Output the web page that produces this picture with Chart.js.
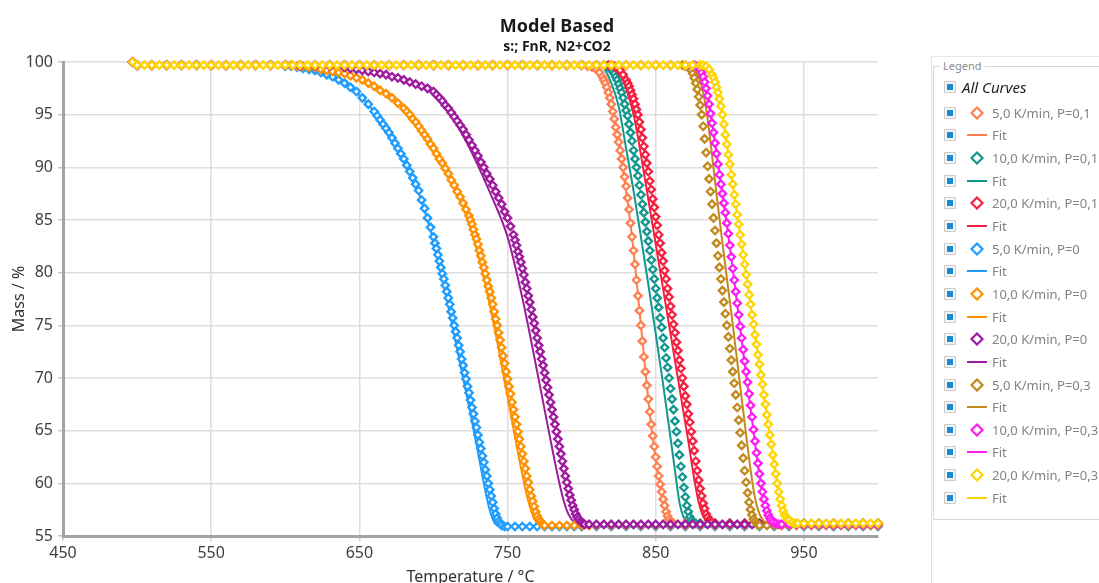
<!DOCTYPE html>
<html>
<head>
<meta charset="utf-8">
<title>Model Based</title>
<script src="https://cdn.jsdelivr.net/npm/chart.js@4.4.1/dist/chart.umd.min.js"></script>
<style>
  html, body { margin: 0; padding: 0; background: #fff; overflow: hidden; width: 1099px; height: 583px; }
  #chartMass { position: absolute; left: 0; top: 0; }
  .panel { position: absolute; left: 931px; top: 56px; width: 200px; height: 560px; border-left: 1px solid #e2e2e2; border-top: 1px solid #e8e8e8; }
  .groupBox { position: absolute; left: 933px; top: 66px; width: 200px; height: 452px; border: 1px solid #d9d9d9; }
  .groupTitle { position: absolute; left: 940px; top: 58px; padding: 0 3px; background: #fff; font: 11px 'Noto Sans', sans-serif; color: #8c8c8c; }
  .row { position: absolute; left: 944px; height: 16px; display: flex; align-items: center; font-family: 'Noto Sans', sans-serif; white-space: nowrap; }
  .check { width: 10px; height: 10px; border: 1px solid #cdcdcd; background: #f3f3f3; position: relative; flex: none; }
  .check div { position: absolute; left: 2px; top: 2px; width: 6px; height: 6px; background: #1a8ad4; }
  .icon { margin-left: 10px; flex: none; }
  .label { margin-left: 4px; font-size: 13px; color: #838383; }
  .allCurves { margin-left: 6px; font-size: 15px; font-style: italic; color: #1e1e1e; }
</style>
</head>
<body>
<canvas id="chartMass" width="1114" height="590"></canvas>
<div class="panel"></div>
<div class="groupBox"></div>
<div class="groupTitle">Legend</div>
<div id="legendRows"></div>
<script>
// Axis ticks
const xTicks = [450, 550, 650, 750, 850, 950];
const yTicks = [55, 60, 65, 70, 75, 80, 85, 90, 95, 100];

// Legend labels and colours (measurement series, each one followed by its fit)
const seriesLabels = ['5,0 K/min, P=0,1', '10,0 K/min, P=0,1', '20,0 K/min, P=0,1',
                      '5,0 K/min, P=0', '10,0 K/min, P=0', '20,0 K/min, P=0',
                      '5,0 K/min, P=0,3', '10,0 K/min, P=0,3', '20,0 K/min, P=0,3'];
const seriesColors = ['#FF7F50', '#12978F', '#F5203F', '#1E9CFF', '#FF9000', '#9E1A9E', '#C28A1E', '#FF1CF0', '#FFD500'];

// Measured mass [temperature, mass %]
const mass5P01 = [[497,100],[500,99.7],[510,99.7],[520,99.7],[530,99.7],[540,99.7],[550,99.7],[560,99.7],[570,99.7],[580,99.7],[590,99.7],[600,99.7],[610,99.7],[620,99.7],[630,99.7],[640,99.7],[650,99.7],[660,99.7],[670,99.7],[680,99.7],[690,99.7],[700,99.7],[710,99.7],[720,99.7],[730,99.7],[740,99.7],[750,99.7],[760,99.7],[770,99.7],[780,99.7],[790,99.7],[800,99.7],
  [804,99.6],[807,99.5],[810,99.3],[812,99.0],[814,98.6],[815,98.3],[816,98.0],[817,97.6],[818,97.1],[819,96.6],[820,96.0],[821,95.3],[822,94.6],[823,93.8],[824,93.1],[825,92.4],[826,91.6],[827,90.8],[828,90.0],[829,89.1],[830,88.2],[831,87.1],[832,86.0],[833,84.7],[834,83.4],[835,82.1],[836,80.8],[837,79.3],[838,77.8],[839,76.4],[840,75.0],[841,73.5],[842,72.0],[843,70.6],[844,69.3],[845,68.0],[846,66.8],[847,65.6],[848,64.5],[849,63.5],[850,62.5],[851,61.6],[852,60.7],[853,59.9],[854,59.2],[855,58.5],[856,57.9],[857,57.3],[858,56.9],[859,56.6],[860,56.4],[862,56.2],
  [870,56.2],[880,56.2],[890,56.2],[900,56.2],[910,56.2],[920,56.2],[930,56.2],[940,56.2],[950,56.2],[960,56.2],[970,56.2],[980,56.2],[990,56.2],[1000,56.2]];

const mass10P01 = [[497,100],[500,99.7],[510,99.7],[520,99.7],[530,99.7],[540,99.7],[550,99.7],[560,99.7],[570,99.7],[580,99.7],[590,99.7],[600,99.7],[610,99.7],[620,99.7],[630,99.7],[640,99.7],[650,99.7],[660,99.7],[670,99.7],[680,99.7],[690,99.7],[700,99.7],[710,99.7],[720,99.7],[730,99.7],[740,99.7],[750,99.7],[760,99.7],[770,99.7],[780,99.7],[790,99.7],[800,99.7],[810,99.7],
  [815,99.7],[818,99.5],[820,99.3],[821,99.1],[822,98.9],[823,98.6],[824,98.3],[825,97.9],[826,97.5],[827,97.1],[828,96.6],[829,96.0],[830,95.4],[831,94.9],[832,94.1],[833,93.3],[834,92.5],[835,91.6],[836,90.8],[837,90.0],[838,89.2],[839,88.3],[840,87.4],[841,86.5],[842,85.7],[843,84.8],[844,83.9],[845,83.0],[846,82.1],[847,81.2],[848,80.3],[849,79.4],[850,78.5],[851,77.6],[852,76.7],[853,75.7],[854,74.8],[855,73.8],[856,72.9],[857,71.9],[858,71.0],[859,70.0],[860,69.0],[861,68.0],[862,67.0],[863,65.9],[864,64.9],[865,63.8],[866,62.7],[867,61.6],[868,60.6],[869,59.6],[870,58.7],[871,57.9],[872,57.3],[873,56.8],[874,56.5],[875,56.3],[877,56.2],
  [880,56.2],[890,56.2],[900,56.2],[910,56.2],[920,56.2],[930,56.2],[940,56.2],[950,56.2],[960,56.2],[970,56.2],[980,56.2],[990,56.2],[1000,56.2]];

const mass20P01 = [[497,100],[500,99.7],[510,99.7],[520,99.7],[530,99.7],[540,99.7],[550,99.7],[560,99.7],[570,99.7],[580,99.7],[590,99.7],[600,99.7],[610,99.7],[620,99.7],[630,99.7],[640,99.7],[650,99.7],[660,99.7],[670,99.7],[680,99.7],[690,99.7],[700,99.7],[710,99.7],[720,99.7],[730,99.7],[740,99.7],[750,99.7],[760,99.7],[770,99.7],[780,99.7],[790,99.7],[800,99.7],[810,99.7],
  [818,99.7],[822,99.6],[824,99.4],[826,99.2],[828,98.8],[830,98.3],[831,98.0],[832,97.7],[833,97.3],[834,96.9],[835,96.5],[836,96.0],[837,95.5],[838,95.0],[839,94.3],[840,93.6],[841,92.8],[842,92.0],[843,91.2],[844,90.4],[845,89.6],[846,88.7],[847,87.9],[848,87.0],[849,86.2],[850,85.3],[851,84.5],[852,83.6],[853,82.8],[854,81.9],[855,81.1],[856,80.2],[857,79.4],[858,78.5],[859,77.7],[860,76.8],[861,76.0],[862,75.1],[863,74.3],[864,73.4],[865,72.6],[866,71.7],[867,70.9],[868,70.0],[869,69.2],[870,68.3],[871,67.5],[872,66.6],[873,65.8],[874,64.9],[875,64.0],[876,63.1],[877,62.1],[878,61.2],[879,60.3],[880,59.5],[881,58.8],[882,58.1],[883,57.6],[884,57.1],[885,56.8],[886,56.5],[887,56.4],[888,56.3],[890,56.2],
  [900,56.2],[910,56.2],[920,56.2],[930,56.2],[940,56.2],[950,56.2],[960,56.2],[970,56.2],[980,56.2],[990,56.2],[1000,56.2]];

const mass5P0 = [[497,100],[500,99.7],[510,99.7],[520,99.7],[530,99.7],[540,99.7],[550,99.7],[560,99.7],[570,99.7],[580,99.7],[590,99.7],
  [600,99.6],[604,99.6],[608,99.5],[612,99.4],[616,99.3],[620,99.2],[624,99.0],[628,98.8],[632,98.6],[636,98.3],[640,98.0],[644,97.6],[648,97.2],[652,96.6],[656,96.0],[660,95.3],
  [662,94.9],[664,94.5],[666,94.1],[668,93.7],[670,93.3],[672,92.8],[674,92.3],[676,91.8],[678,91.3],[680,90.8],[682,90.2],[684,89.6],[686,89.0],[688,88.4],[690,87.8],[692,86.9],[694,86.1],[696,85.2],[698,84.3],
  [700,83.4],[701,82.8],[702,82.3],[703,81.7],[704,81.1],[705,80.5],[706,79.9],[707,79.4],[708,78.8],[709,78.2],[710,77.6],[711,77.0],[712,76.3],[713,75.7],[714,75.0],[715,74.4],[716,73.8],[717,73.1],[718,72.5],[719,71.8],[720,71.2],[721,70.5],[722,69.9],[723,69.2],[724,68.6],[725,67.9],[726,67.2],[727,66.6],[728,65.9],[729,65.3],[730,64.6],[731,63.9],[732,63.3],[733,62.6],[734,62.0],[735,61.3],[736,60.7],[737,60.0],[738,59.4],[739,58.8],[740,58.2],[741,57.6],[742,57.1],[743,56.7],[744,56.4],[745,56.2],[746,56.0],[748,55.9],
  [750,55.9],[755,55.9],[760,55.9],[765,55.9],[770,55.9],[775,55.9],[780,55.9],[785,55.9],[790,55.9],[795,55.9],[800,55.9],[810,55.9],[820,55.9],[830,55.9],[840,55.9],[850,55.9],[860,55.9],[870,55.9],[880,55.9],[890,55.9],[900,55.9],[910,55.9],[920,55.9],[930,55.9],[940,55.9],[950,55.9],[960,55.9],[970,55.9],[980,55.9],[990,55.9],[1000,55.9]];

const mass10P0 = [[497,100],[500,99.7],[510,99.7],[520,99.7],[530,99.7],[540,99.7],[550,99.7],[560,99.7],[570,99.7],[580,99.7],[590,99.7],
  [600,99.7],[604,99.7],[608,99.6],[612,99.6],[616,99.5],[620,99.5],[624,99.3],[628,99.2],[632,99.1],[636,99.0],[640,98.9],[644,98.7],[648,98.5],[652,98.3],[656,98.0],[660,97.7],[664,97.3],[668,97.0],[672,96.6],[676,96.1],[680,95.6],
  [682,95.3],[684,95.0],[686,94.6],[688,94.3],[690,93.9],[692,93.5],[694,93.1],[696,92.7],[698,92.2],[700,91.8],[702,91.3],[704,90.8],[706,90.4],[708,89.9],[710,89.4],[712,88.8],[714,88.3],[716,87.7],[718,87.2],[720,86.6],[722,86.0],[724,85.4],
  [725,85.0],[726,84.6],[727,84.1],[728,83.6],[729,83.2],[730,82.7],[731,82.1],[732,81.6],[733,81.0],[734,80.5],[735,79.9],[736,79.3],[737,78.7],[738,78.2],[739,77.6],[740,77.0],[741,76.3],[742,75.6],[743,75.0],[744,74.3],[745,73.6],[746,72.9],[747,72.1],[748,71.4],[749,70.6],[750,69.9],[751,69.2],[752,68.5],[753,67.7],[754,67.0],[755,66.3],[756,65.6],[757,64.9],[758,64.2],[759,63.5],[760,62.8],[761,62.1],[762,61.4],[763,60.7],[764,60.1],[765,59.4],[766,58.8],[767,58.3],[768,57.8],[769,57.3],[770,56.9],[771,56.6],[772,56.4],[773,56.2],[774,56.1],[775,56.0],
  [780,56.0],[785,56.0],[790,56.0],[795,56.0],[800,56.0],[805,56.0],[810,56.0],[820,56.0],[830,56.0],[840,56.0],[850,56.0],[860,56.0],[870,56.0],[880,56.0],[890,56.0],[900,56.0],[910,56.0],[920,56.0],[930,56.0],[940,56.0],[950,56.0],[960,56.0],[970,56.0],[980,56.0],[990,56.0],[1000,56.0]];

const mass20P0 = [[497,100],[500,99.7],[510,99.7],[520,99.7],[530,99.7],[540,99.7],[550,99.7],[560,99.7],[570,99.7],[580,99.7],[590,99.7],[600,99.7],[610,99.6],[620,99.6],[630,99.6],
  [640,99.5],[644,99.4],[648,99.3],[652,99.2],[656,99.1],[660,99.0],[664,98.9],[668,98.8],[672,98.6],[676,98.5],[680,98.3],[684,98.1],[688,97.9],[692,97.7],[696,97.5],[700,97.2],
  [702,96.9],[704,96.6],[706,96.3],[708,95.9],[710,95.6],[712,95.2],[714,94.8],[716,94.4],[718,94.0],[720,93.6],[722,93.1],[724,92.6],[726,92.1],[728,91.6],[730,91.1],[732,90.5],[734,90.0],[736,89.4],[738,88.9],[740,88.3],[742,87.7],[744,87.1],[746,86.5],[748,85.8],[750,85.2],[752,84.4],[754,83.6],
  [755,83.1],[756,82.6],[757,82.0],[758,81.5],[759,81.0],[760,80.4],[761,79.8],[762,79.1],[763,78.5],[764,77.8],[765,77.2],[766,76.5],[767,75.8],[768,75.2],[769,74.5],[770,73.8],[771,73.1],[772,72.5],[773,71.8],[774,71.2],[775,70.5],[776,69.8],[777,69.1],[778,68.4],[779,67.7],[780,67.0],[781,66.3],[782,65.6],[783,64.9],[784,64.2],[785,63.5],[786,62.8],[787,62.1],[788,61.4],[789,60.7],[790,60.1],[791,59.5],[792,58.9],[793,58.4],[794,57.9],[795,57.5],[796,57.1],[797,56.8],[798,56.6],[799,56.4],[800,56.3],[801,56.2],[802,56.1],
  [805,56.1],[810,56.1],[815,56.1],[820,56.1],[825,56.1],[830,56.1],[835,56.1],[840,56.1],[845,56.1],[850,56.1],[855,56.1],[860,56.1],[865,56.1],[870,56.1],[875,56.1],[880,56.1],[885,56.1],[890,56.1],[895,56.1],[900,56.1],[905,56.1],[910,56.1],[915,56.1],[920,56.1],[930,56.1],[940,56.1],[950,56.1],[960,56.1],[970,56.1],[980,56.1],[990,56.1],[1000,56.1]];

const mass5P03 = [[497,100],[500,99.7],[510,99.7],[520,99.7],[530,99.7],[540,99.7],[550,99.7],[560,99.7],[570,99.7],[580,99.7],[590,99.7],[600,99.7],[610,99.7],[620,99.7],[630,99.7],[640,99.7],[650,99.7],[660,99.7],[670,99.7],[680,99.7],[690,99.7],[700,99.7],[710,99.7],[720,99.7],[730,99.7],[740,99.7],[750,99.7],[760,99.7],[770,99.7],[780,99.7],[790,99.7],[800,99.7],[810,99.7],[820,99.7],[830,99.7],[840,99.7],[850,99.7],[860,99.7],
  [868,99.7],[870,99.6],[872,99.5],[874,99.2],[875,98.9],[876,98.5],[877,98.0],[878,97.4],[879,96.7],[880,95.9],[881,95.0],[882,93.9],[883,92.7],[884,91.4],[885,90.1],[886,88.9],[887,87.7],[888,86.5],[889,85.2],[890,84.0],[891,82.8],[892,81.6],[893,80.5],[894,79.4],[895,78.3],[896,77.2],[897,76.1],[898,75.0],[899,73.9],[900,72.8],[901,71.7],[902,70.6],[903,69.5],[904,68.4],[905,67.2],[906,66.0],[907,64.8],[908,63.6],[909,62.4],[910,61.2],[911,60.1],[912,59.1],[913,58.2],[914,57.5],[915,57.0],[916,56.6],[917,56.4],[918,56.2],[919,56.1],[920,56.0],
  [925,56.0],[930,56.0],[935,56.0],[940,56.0],[945,56.0],[950,56.0],[955,56.0],[960,56.0],[965,56.0],[970,56.0],[975,56.0],[980,56.0],[985,56.0],[990,56.0],[995,56.0],[1000,56.0]];

const mass10P03 = [[497,100],[500,99.7],[510,99.7],[520,99.7],[530,99.7],[540,99.7],[550,99.7],[560,99.7],[570,99.7],[580,99.7],[590,99.7],[600,99.7],[610,99.7],[620,99.7],[630,99.7],[640,99.7],[650,99.7],[660,99.7],[670,99.7],[680,99.7],[690,99.7],[700,99.7],[710,99.7],[720,99.7],[730,99.7],[740,99.7],[750,99.7],[760,99.7],[770,99.7],[780,99.7],[790,99.7],[800,99.7],[810,99.7],[820,99.7],[830,99.7],[840,99.7],[850,99.7],[860,99.7],[870,99.7],
  [876,99.7],[878,99.6],[880,99.3],[881,99.0],[882,98.6],[883,98.1],[884,97.5],[885,96.8],[886,96.0],[887,95.1],[888,94.2],[889,93.3],[890,92.3],[891,91.3],[892,90.3],[893,89.3],[894,88.4],[895,87.5],[896,86.6],[897,85.7],[898,84.7],[899,83.7],[900,82.6],[901,81.5],[902,80.4],[903,79.3],[904,78.2],[905,77.1],[906,76.0],[907,74.9],[908,73.8],[909,72.7],[910,71.6],[911,70.6],[912,69.6],[913,68.5],[914,67.4],[915,66.3],[916,65.1],[917,64.0],[918,62.9],[919,61.9],[920,60.9],[921,60.0],[922,59.2],[923,58.5],[924,57.9],[925,57.4],[926,57.0],[927,56.7],[928,56.5],[929,56.3],[931,56.2],[933,56.1],
  [935,56.1],[940,56.1],[945,56.1],[950,56.1],[955,56.1],[960,56.1],[965,56.1],[970,56.1],[975,56.1],[980,56.1],[985,56.1],[990,56.1],[995,56.1],[1000,56.1]];

const mass20P03 = [[497,100],[500,99.7],[505,99.7],[510,99.7],[515,99.7],[520,99.7],[525,99.7],[530,99.7],[535,99.7],[540,99.7],[545,99.7],[550,99.7],[555,99.7],[560,99.7],[565,99.7],[570,99.7],[575,99.7],[580,99.7],[585,99.7],[590,99.7],[595,99.7],[600,99.7],[605,99.7],[610,99.7],[615,99.7],[620,99.7],[625,99.7],[630,99.7],[635,99.7],[640,99.7],[645,99.7],[650,99.7],[655,99.7],[660,99.7],[665,99.7],[670,99.7],[675,99.7],[680,99.7],[685,99.7],[690,99.7],[695,99.7],[700,99.7],[705,99.7],[710,99.7],[715,99.7],[720,99.7],[725,99.7],[730,99.7],[735,99.7],[740,99.7],[745,99.7],[750,99.7],[755,99.7],[760,99.7],[765,99.7],[770,99.7],[775,99.7],[780,99.7],[785,99.7],[790,99.7],[795,99.7],[800,99.7],[805,99.7],[810,99.7],[815,99.7],[820,99.7],[825,99.7],[830,99.7],[835,99.7],[840,99.7],[845,99.7],[850,99.7],[855,99.7],[860,99.7],[865,99.7],[870,99.7],[875,99.7],[880,99.7],
  [882,99.7],[884,99.6],[886,99.3],[888,98.8],[889,98.5],[890,98.1],[891,97.6],[892,97.1],[893,96.5],[894,95.8],[895,95.0],[896,94.1],[897,93.1],[898,92.2],[899,91.2],[900,90.3],[901,89.3],[902,88.4],[903,87.4],[904,86.5],[905,85.5],[906,84.6],[907,83.6],[908,82.7],[909,81.7],[910,80.8],[911,79.8],[912,78.9],[913,77.9],[914,77.0],[915,76.0],[916,75.1],[917,74.1],[918,73.2],[919,72.2],[920,71.3],[921,70.3],[922,69.4],[923,68.4],[924,67.5],[925,66.5],[926,65.6],[927,64.6],[928,63.7],[929,62.7],[930,61.8],[931,60.9],[932,60.0],[933,59.2],[934,58.5],[935,57.9],[936,57.4],[937,57.0],[938,56.8],[939,56.6],[940,56.5],[942,56.3],[944,56.2],
  [946,56.2],[950,56.2],[955,56.2],[960,56.2],[965,56.2],[970,56.2],[975,56.2],[980,56.2],[985,56.2],[990,56.2],[995,56.2],[1000,56.2]];

// Model fits [temperature, mass %]
const fit5P01 = [[500,99.7],[800,99.7],[806,99.6],[810,99.3],[814,98.5],[818,97.0],[821,95.2],[824,92.9],[828,89.6],[832,85.7],[836,80.8],[840,75.0],[844,69.3],[848,64.3],[852,60.4],[855,58.3],[858,56.8],[861,56.3],[864,56.2],[1000,56.2]];
const fit10P01 = [[500,99.7],[811,99.7],[815,99.4],[820,98.0],[825,95.8],[830,91.8],[835,87.8],[840,83.4],[845,78.9],[850,74.2],[855,69.4],[860,64.3],[863,61.2],[866,58.2],[869,56.7],[872,56.2],[1000,56.2]];
const fit20P01 = [[500,99.7],[815,99.7],[820,99.6],[824,99.2],[828,98.3],[832,96.6],[836,94.4],[840,91.2],[844,87.8],[848,84.4],[852,81.0],[856,77.6],[860,74.2],[864,70.8],[868,67.4],[872,64.0],[876,60.4],[879,58.2],[882,56.9],[885,56.3],[888,56.2],[1000,56.2]];
const fit5P0 = [[500,99.7],[600,99.6],[620,99.2],[640,98.0],[660,95.3],[680,90.8],[690,87.6],[700,83.0],[710,76.8],[720,70.0],[725,66.6],[730,63.0],[734,60.0],[737,58.0],[740,56.6],[742,56.1],[745,55.9],[1000,55.9]];
const fit10P0 = [[500,99.7],[600,99.7],[640,98.9],[660,97.7],[680,95.6],[700,91.7],[720,86.2],[730,81.8],[740,75.6],[750,68.2],[760,60.8],[764,58.3],[768,56.6],[771,56.1],[774,56.0],[1000,56.0]];
const fit20P0 = [[500,99.7],[640,99.5],[680,98.3],[700,97.0],[720,93.0],[740,87.0],[750,83.4],[760,77.6],[770,70.6],[775,67.0],[780,63.4],[785,60.0],[788,58.3],[791,57.1],[795,56.3],[799,56.1],[1000,56.1]];
const fit5P03 = [[500,99.7],[869,99.7],[873,99.6],[877,99.2],[880,98.2],[883,96.4],[885,94.6],[887,92.4],[889,89.9],[891,87.5],[894,84.0],[897,80.6],[901,76.2],[906,70.4],[911,64.6],[914,61.3],[917,58.6],[920,57.1],[923,56.4],[927,56.1],[931,56.0],[1000,56.0]];
const fit10P03 = [[500,99.7],[876,99.7],[880,99.3],[884,97.6],[888,94.3],[892,90.4],[896,86.6],[900,82.5],[905,77.0],[910,71.4],[915,66.0],[920,60.8],[923,58.6],[926,57.1],[929,56.4],[933,56.1],[1000,56.1]];
const fit20P03 = [[500,99.7],[882,99.7],[886,99.3],[890,98.1],[895,95.0],[900,90.3],[905,85.5],[910,80.8],[915,76.0],[920,71.3],[925,66.5],[930,61.8],[934,58.6],[938,56.9],[942,56.3],[946,56.2],[1000,56.2]];

const seriesMass = [mass5P01, mass10P01, mass20P01, mass5P0, mass10P0, mass20P0, mass5P03, mass10P03, mass20P03];
const seriesFit = [fit5P01, fit10P01, fit20P01, fit5P0, fit10P0, fit20P0, fit5P03, fit10P03, fit20P03];

Chart.defaults.font.family = "'Noto Sans', sans-serif";

// Build datasets: fits are drawn underneath, later measurement series on top
const datasets = [];
seriesLabels.forEach((label, i) => {
    datasets.push({
        label: label,
        data: seriesMass[i],
        yAxisID: 'y',
        showLine: false,
        pointStyle: 'rectRot',
        pointRadius: 3.7,
        pointBorderWidth: 2.3,
        pointBorderColor: seriesColors[i],
        pointBackgroundColor: '#ffffff',
        clip: 10,
        order: 20 - i
    });
    datasets.push({
        label: 'Fit',
        data: seriesFit[i],
        yAxisID: 'y',
        borderColor: seriesColors[i],
        borderWidth: 2,
        pointRadius: 0,
        cubicInterpolationMode: 'monotone',
        clip: 4,
        order: 100 - i
    });
});

const ctxMass = document.getElementById('chartMass').getContext('2d');
const chartMass = new Chart(ctxMass, {
    type: 'line',
    data: { datasets: datasets },
    options: {
        responsive: false,
        animation: false,
        events: [],
        layout: { padding: 0 },
        plugins: {
            legend: { display: false },
            tooltip: { enabled: false },
            title: {
                display: true,
                text: 'Model Based',
                color: '#1a1a1a',
                font: { size: 18, weight: 'bold' },
                padding: { top: 16, bottom: 0 }
            },
            subtitle: {
                display: true,
                text: 's:; FnR, N2+CO2',
                color: '#1a1a1a',
                font: { size: 14, weight: 'bold' },
                padding: { top: 1.2, bottom: 6.4 }
            }
        },
        scales: {
            x: {
                type: 'linear',
                min: 450,
                max: 1000,
                afterBuildTicks: (scale) => { scale.ticks = xTicks.map((v) => ({ value: v })); },
                afterFit: (scale) => { scale.height = 54; },
                border: { display: true, color: '#a3a3a3', width: 3 },
                grid: { color: '#dedede', lineWidth: 1.5, tickLength: 5, tickColor: '#c9c9c9' },
                ticks: { color: '#404040', font: { size: 16 }, padding: 3, maxRotation: 0 },
                title: { display: true, text: 'Temperature / °C', color: '#333333', font: { size: 16 }, padding: { top: 0, bottom: 3 } }
            },
            y: {
                type: 'linear',
                min: 55,
                max: 100,
                afterBuildTicks: (scale) => { scale.ticks = yTicks.map((v) => ({ value: v })); },
                afterFit: (scale) => { scale.width = 63; },
                border: { display: true, color: '#a3a3a3', width: 3 },
                grid: { color: '#dedede', lineWidth: 1.5, tickLength: 5, tickColor: '#c9c9c9' },
                ticks: { color: '#404040', font: { size: 16 }, padding: 5 },
                title: { display: true, text: 'Mass / %', color: '#333333', font: { size: 16 }, padding: { top: 10, bottom: 0 } }
            },
            // Empty right-hand axis that keeps room for the legend panel
            yPad: {
                type: 'linear',
                position: 'right',
                min: 55,
                max: 100,
                afterFit: (scale) => { scale.width = 236; },
                grid: { display: false, drawTicks: false },
                border: { display: false },
                ticks: { display: false }
            }
        }
    }
});

// Legend panel on the right
const legendRows = document.getElementById('legendRows');
function addRow(centerY, iconHtml, text, cls) {
    const row = document.createElement('div');
    row.className = 'row';
    row.style.top = (centerY - 8) + 'px';
    row.innerHTML = '<div class="check"><div></div></div>' + iconHtml + '<span class="' + cls + '">' + text + '</span>';
    legendRows.appendChild(row);
}
addRow(87, '', 'All Curves', 'allCurves');
seriesLabels.forEach((label, i) => {
    const color = seriesColors[i];
    const diamond = '<svg class="icon" width="22" height="14"><polygon points="11,1.5 16.5,7 11,12.5 5.5,7" fill="#fff" stroke="' + color + '" stroke-width="2.2"/></svg>';
    const line = '<svg class="icon" width="22" height="14"><line x1="1" y1="7" x2="21" y2="7" stroke="' + color + '" stroke-width="2"/></svg>';
    addRow(112.7 + 22.65 * (2 * i), diamond, label, 'label');
    addRow(112.7 + 22.65 * (2 * i + 1), line, 'Fit', 'label');
});
</script>
</body>
</html>
